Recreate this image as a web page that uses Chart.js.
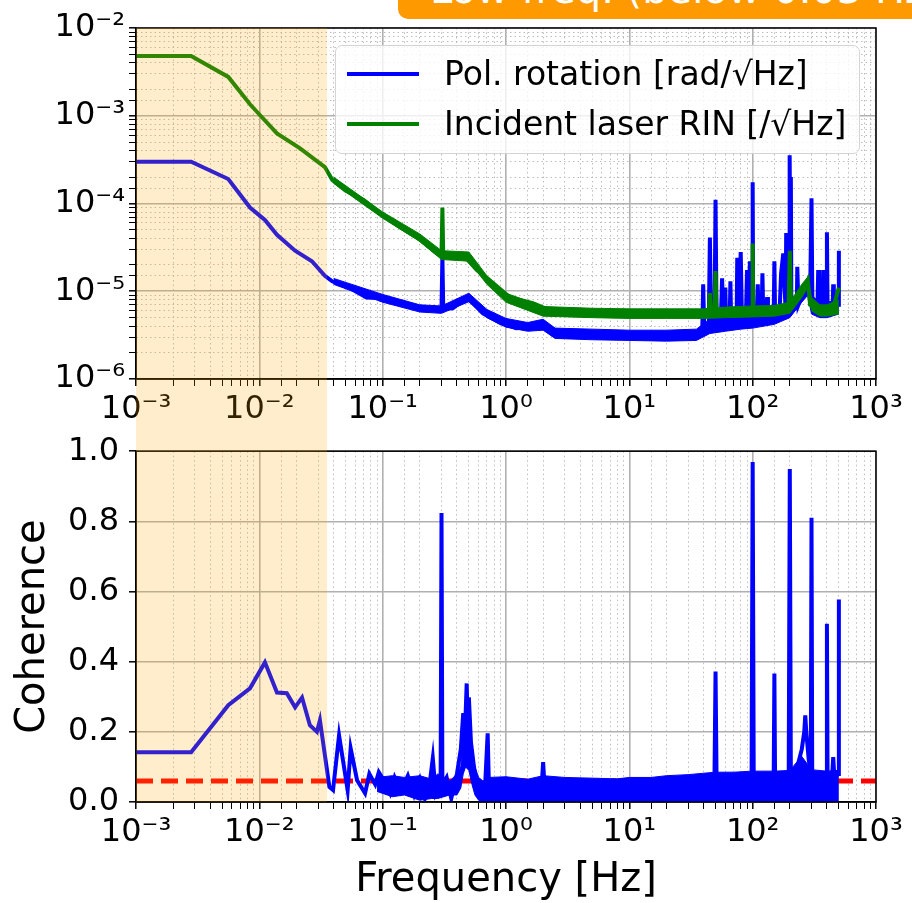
<!DOCTYPE html>
<html>
<head>
<meta charset="utf-8">
<script src="https://cdn.jsdelivr.net/npm/chart.js@4.4.1/dist/chart.umd.min.js"></script>
<style>
  body { margin: 0; background: #fff; font-family: 'DejaVu Sans', sans-serif; }
  #wrap { position: relative; width: 912px; height: 903px; overflow: hidden; }
  #topChart { position: absolute; left: 0; top: 0; }
  #botChart { position: absolute; left: 0; top: 422px; }
  #banner {
    position: absolute; left: 398px; top: -30px; width: 540px; height: 49px;
    background: #ff9900; border-radius: 10px; overflow: hidden;
  }
  #banner span {
    position: absolute; left: 32px; top: -1px; color: #fff; font-size: 40px;
    white-space: nowrap; line-height: 1;
  }
  #legend {
    position: absolute; left: 335px; top: 45px; width: 525px; height: 109px;
    border: 1.5px solid #d4d4d4; border-radius: 7px; background: rgba(255,255,255,0.8);
    box-sizing: border-box;
  }
  .item { position: absolute; left: 0; height: 40px; font-size: 33px; white-space: nowrap; }
  .item i { position: absolute; left: 11px; width: 72px; height: 4px; top: 18px; }
  .item b { position: absolute; left: 108px; top: 0; font-weight: normal; line-height: 40px; }
</style>
</head>
<body>
<div id="wrap">
  <canvas id="topChart" width="912" height="430"></canvas>
  <canvas id="botChart" width="912" height="481"></canvas>
  <div id="banner"><span>Low freq. (below 0.03 Hz)</span></div>
  <div id="legend">
    <div class="item" style="top:8px"><i style="background:#0000ff"></i><b>Pol. rotation [rad/√Hz]</b></div>
    <div class="item" style="top:58px"><i style="background:#008000"></i><b>Incident laser RIN [/√Hz]</b></div>
  </div>
</div>
<script>
// top panel: amplitude spectral densities
const freqPol = [0.001, 0.0028, 0.0056, 0.0084, 0.0111, 0.0139, 0.0195, 0.0267, 0.034, 0.039, 0.0545, 0.074, 0.1, 0.138, 0.19, 0.256,
  0.3, 0.305, 0.31, 0.37, 0.483, 0.65, 0.89, 1.21, 1.65, 1.88, 2.4, 4.2, 7.9, 15, 25, 37,
  39, 39.7, 40.5, 44, 45, 46, 49, 50, 51, 55, 56.5, 58, 59.5, 60, 61, 65, 66, 67,
  74, 75, 77, 80, 82, 88, 90, 92, 95, 97, 99, 100, 101, 108, 110, 112, 118, 120, 122, 129, 131, 133,
  148, 150, 152, 165, 170, 177, 185, 187, 189, 196, 198, 199, 200, 202.5, 204, 206, 228, 230, 235, 260, 280, 292, 300, 305,
  335, 340, 345, 368, 373, 378, 395, 400, 405, 445, 450, 455, 495, 500];
const asdPol = [3.0e-4, 3.0e-4, 1.9e-4, 9.0e-5, 6.5e-5, 4.4e-5, 2.9e-5, 2.2e-5, 1.5e-5, 1.3e-5, 1.08e-5, 8.5e-6, 8.3e-6, 7.3e-6, 6.4e-6, 6.2e-6,
  6.3e-6, 2.5e-5, 6.3e-6, 6.4e-6, 8.5e-6, 5.6e-6, 4.4e-6, 3.8e-6, 3.9e-6, 4.4e-6, 3.2e-6, 3.3e-6, 3.0e-6, 3.1e-6, 3.0e-6, 3.2e-6,
  3.5e-6, 1.2e-5, 3.6e-6, 3.8e-6, 4.1e-5, 3.9e-6, 4.0e-6, 1.1e-4, 4.0e-6, 4.1e-6, 1.4e-5, 4.1e-6, 4.1e-6, 1.1e-5, 4.1e-6, 4.2e-6, 1.3e-5, 4.2e-6,
  4.3e-6, 2.4e-5, 5.0e-6, 2.8e-5, 4.4e-6, 4.5e-6, 1.75e-5, 5.0e-6, 2.2e-5, 4.6e-6, 4.7e-6, 1.75e-4, 4.7e-6, 4.8e-6, 1.2e-5, 4.8e-6, 4.9e-6, 1.6e-5, 5.0e-6, 5.0e-6, 8.6e-6, 5.0e-6,
  5.2e-6, 2.2e-5, 5.3e-6, 5.5e-6, 1.6e-5, 2.7e-5, 6.0e-6, 4.6e-5, 6.0e-6, 6.0e-6, 4.6e-5, 6.0e-6, 3.55e-4, 6.0e-6, 2.0e-4, 6.0e-6, 6.5e-6, 1.9e-5, 7.0e-6, 1.0e-5, 1.3e-5, 8.0e-6, 1.15e-4, 7.0e-6,
  6.5e-6, 1.75e-5, 6.3e-6, 6.4e-6, 1.75e-5, 6.4e-6, 6.5e-6, 4.7e-5, 6.5e-6, 6.5e-6, 1.2e-5, 6.5e-6, 7.0e-6, 2.9e-5];

const bandFreqPol = [0.04, 0.1, 0.2, 0.3, 0.5, 0.7, 1, 1.5, 2, 2.5, 5, 10, 20, 35, 45, 60, 80, 100, 150, 200, 250, 280, 300, 350, 400, 500];
const polHi = [1.4e-5, 9.2e-6, 7.0e-6, 6.8e-6, 9.5e-6, 6.2e-6, 4.9e-6, 4.4e-6, 4.8e-6, 3.8e-6, 3.7e-6, 3.6e-6, 3.6e-6, 3.7e-6, 4.8e-6, 5.2e-6, 5.3e-6, 5.6e-6, 6.0e-6, 7.0e-6, 1.1e-5, 1.4e-5, 9.0e-6, 7.5e-6, 7.5e-6, 8.0e-6];
const polLo = [1.2e-5, 7.5e-6, 5.8e-6, 5.6e-6, 7.6e-6, 5.0e-6, 3.9e-6, 3.5e-6, 3.6e-6, 2.9e-6, 2.8e-6, 2.75e-6, 2.7e-6, 2.75e-6, 3.3e-6, 3.5e-6, 3.7e-6, 3.8e-6, 4.2e-6, 5.0e-6, 7.5e-6, 9.0e-6, 5.5e-6, 5.0e-6, 5.0e-6, 5.5e-6];

const freqRin = [0.001, 0.0028, 0.0056, 0.0084, 0.0101, 0.0139, 0.0214, 0.034, 0.039, 0.05, 0.07, 0.1, 0.138, 0.19, 0.275,
  0.3, 0.305, 0.31, 0.37, 0.45, 0.58, 0.79, 1.08, 1.65, 2.3, 4.2, 8, 20, 44, 45, 46, 49, 50, 51,
  99, 100, 101, 150, 195, 200, 205, 230, 260, 280, 292, 350, 450, 500];
const asdRin = [4.8e-3, 4.8e-3, 2.77e-3, 1.35e-3, 1.02e-3, 6.3e-4, 4.25e-4, 2.6e-4, 1.86e-4, 1.4e-4, 1.1e-4, 7.4e-5, 5.4e-5, 4.1e-5, 2.7e-5,
  2.6e-5, 9.0e-5, 2.5e-5, 2.4e-5, 2.6e-5, 1.74e-5, 1.23e-5, 8.5e-6, 7.3e-6, 6.0e-6, 5.8e-6, 5.6e-6, 5.6e-6, 5.6e-6, 9.5e-6, 5.6e-6, 5.6e-6, 1.7e-5, 5.6e-6,
  5.7e-6, 3.5e-5, 5.7e-6, 5.8e-6, 6.0e-6, 2.9e-5, 6.5e-6, 8.0e-6, 1.1e-5, 1.35e-5, 7.0e-6, 6.0e-6, 6.5e-6, 1.1e-5];

const bandFreqRin = [0.04, 0.1, 0.2, 0.3, 0.5, 0.7, 1, 2, 5, 10, 20, 40, 60, 100, 150, 200, 250, 280, 300, 350, 400, 500];
const rinHi = [2.0e-4, 8.0e-5, 4.5e-5, 2.9e-5, 2.8e-5, 1.5e-5, 9.5e-6, 6.7e-6, 6.4e-6, 6.3e-6, 6.3e-6, 6.3e-6, 6.6e-6, 6.8e-6, 6.9e-6, 7.5e-6, 1.2e-5, 1.45e-5, 8.5e-6, 7.0e-6, 7.0e-6, 8.0e-6];
const rinLo = [1.7e-4, 6.8e-5, 3.7e-5, 2.3e-5, 2.2e-5, 1.2e-5, 7.5e-6, 5.2e-6, 5.0e-6, 4.9e-6, 4.9e-6, 4.9e-6, 5.0e-6, 5.1e-6, 5.2e-6, 5.6e-6, 8.5e-6, 1.1e-5, 6.0e-6, 5.2e-6, 5.2e-6, 5.5e-6];

// bottom panel: coherence
const freqCoh = [0.001, 0.0028, 0.0056, 0.0084, 0.0111, 0.0139, 0.0167, 0.0195, 0.0222, 0.0257, 0.0293, 0.031, 0.037, 0.0396, 0.0443, 0.052, 0.055,
  0.062, 0.072, 0.078, 0.087, 0.093, 0.105, 0.115, 0.125, 0.14, 0.16, 0.18, 0.2, 0.22, 0.24, 0.255, 0.27, 0.295, 0.3, 0.305,
  0.33, 0.36, 0.4, 0.43, 0.45, 0.465, 0.48, 0.49, 0.5, 0.52, 0.55, 0.58, 0.62, 0.68, 0.71, 0.73, 0.8, 1, 1.5, 1.95, 2.0, 2.05,
  5, 10, 20, 40, 49, 50, 51, 98, 100, 102, 148, 150, 152, 196, 200, 204, 230, 250, 262, 267, 272, 285, 296, 300, 304,
  330, 380, 395, 400, 405, 440, 450, 460, 495, 500];
const coh = [0.142, 0.142, 0.276, 0.324, 0.398, 0.312, 0.31, 0.27, 0.298, 0.219, 0.2, 0.233, 0.043, 0.034, 0.19, 0.034, 0.153,
  0.062, 0.025, 0.08, 0.05, 0.085, 0.055, 0.025, 0.07, 0.03, 0.075, 0.02, 0.065, 0.01, 0.05, 0.125, 0.02, 0.04, 0.824, 0.05,
  0.07, 0.01, 0.08, 0.15, 0.253, 0.2, 0.338, 0.22, 0.298, 0.17, 0.1, 0.05, 0.01, 0.06, 0.196, 0.02, 0.05, 0.05, 0.04, 0.05, 0.114, 0.05,
  0.04, 0.05, 0.05, 0.06, 0.06, 0.372, 0.06, 0.06, 0.969, 0.06, 0.06, 0.366, 0.06, 0.07, 0.949, 0.08, 0.1, 0.15, 0.2, 0.247, 0.2, 0.12, 0.08, 0.81, 0.08,
  0.07, 0.08, 0.07, 0.508, 0.07, 0.07, 0.128, 0.07, 0.08, 0.577];

const bandFreqCoh = [0.09, 0.12, 0.15, 0.2, 0.25, 0.28, 0.35, 0.4, 0.43, 0.45, 0.47, 0.5, 0.53, 0.56, 0.6, 0.65, 0.7, 0.72, 1, 1.5, 2, 3, 5, 8, 10, 15, 20, 30, 40, 50, 70, 100, 150, 200, 250, 300, 400, 500];
const cohHi = [0.07, 0.075, 0.07, 0.075, 0.065, 0.08, 0.06, 0.08, 0.1, 0.22, 0.28, 0.25, 0.15, 0.1, 0.07, 0.06, 0.065, 0.07, 0.072, 0.065, 0.075, 0.07, 0.068, 0.066, 0.07, 0.07, 0.075, 0.078, 0.082, 0.085, 0.085, 0.088, 0.088, 0.09, 0.13, 0.092, 0.088, 0.09];
const cohLo = [0.03, 0.015, 0.02, 0.005, 0.01, 0.01, 0.02, 0.02, 0.04, 0.08, 0.1, 0.09, 0.05, 0.02, 0.005, 0, 0, 0, 0, 0, 0, 0, 0, 0, 0, 0, 0, 0, 0, 0, 0, 0, 0, 0, 0, 0, 0, 0];

const thresholdFreq = [0.001, 1000];
const threshold = [0.06, 0.06];

// low-frequency shaded band
const shadeFrom = 0.001;
const shadeTo = 0.0354;

const BLUE = '#0000ff', GREEN = '#008000', RED = '#ff0000';
const GRID = '#b0b0b0';
const FONT = 'DejaVu Sans';

function pts(xs, ys) {
    return xs.map((x, i) => ({ x: x, y: ys[i] }));
}

function isDecade(v) {
    const l = Math.log10(v);
    return Math.abs(l - Math.round(l)) < 1e-6;
}

const SUP = { '-': '\u207b', '0': '\u2070', '1': '\u00b9', '2': '\u00b2', '3': '\u00b3', '4': '\u2074', '5': '\u2075', '6': '\u2076', '7': '\u2077', '8': '\u2078', '9': '\u2079' };
function decadeLabel(v) {
    if (!isDecade(v)) return '';
    const e = String(Math.round(Math.log10(v)));
    return '10' + e.split('').map(c => SUP[c]).join('');
}

function logAxis(min, max, fitSize, horizontal) {
    return {
        type: 'logarithmic',
        min: min,
        max: max,
        afterFit: s => { if (horizontal) s.height = fitSize; else s.width = fitSize; },
        grid: {
            color: c => (c.tick && isDecade(c.tick.value)) ? GRID : '#bdbdbd',
            lineWidth: c => (c.tick && isDecade(c.tick.value)) ? 1.6 : 1,
            tickColor: '#000',
            tickWidth: c => (c.tick && isDecade(c.tick.value)) ? 1.5 : 1,
            tickLength: 7,
            tickBorderDash: []
        },
        border: {
            color: '#000',
            width: 1.5,
            dash: c => (c.tick && !isDecade(c.tick.value)) ? [1.5, 3] : []
        },
        ticks: {
            autoSkip: false,
            maxRotation: 0,
            color: '#000',
            padding: 4,
            font: { family: FONT, size: 32 },
            callback: v => decadeLabel(v)
        }
    };
}

const framePlugin = {
    id: 'frame',
    afterDatasetsDraw(chart) {
        const a = chart.chartArea, ctx = chart.ctx;
        ctx.save();
        ctx.strokeStyle = '#000';
        ctx.lineWidth = 1.5;
        ctx.strokeRect(a.left, a.top, a.right - a.left, a.bottom - a.top);
        ctx.restore();
    }
};

// orange band across both panels, drawn over everything like a figure patch
const shadePlugin = {
    id: 'shade',
    afterDraw(chart, args, opts) {
        const x = chart.scales.x, a = chart.chartArea, ctx = chart.ctx;
        const x0 = x.getPixelForValue(shadeFrom), x1 = x.getPixelForValue(shadeTo);
        const y0 = opts.fromY !== undefined ? opts.fromY : a.top;
        const y1 = opts.toBottom ? chart.height : a.bottom;
        ctx.save();
        ctx.fillStyle = 'rgba(255,165,0,0.2)';
        ctx.fillRect(x0, y0, x1 - x0, y1 - y0);
        ctx.restore();
    }
};

Chart.defaults.font.family = FONT;
Chart.defaults.animation = false;

function band(xs, hi, lo, color, order) {
    return [
        { data: pts(xs, hi), borderColor: color, backgroundColor: color, borderWidth: 1, pointRadius: 0, fill: '+1', order: order },
        { data: pts(xs, lo), borderColor: color, backgroundColor: color, borderWidth: 1, pointRadius: 0, fill: false, order: order }
    ];
}

new Chart(document.getElementById('topChart'), {
    type: 'line',
    data: {
        datasets: [
            { label: 'Pol. rotation [rad/\u221aHz]', data: pts(freqPol, asdPol), borderColor: BLUE, borderWidth: 4, pointRadius: 0, fill: false, order: 3 },
            { label: 'Incident laser RIN [/\u221aHz]', data: pts(freqRin, asdRin), borderColor: GREEN, borderWidth: 4, pointRadius: 0, fill: false, order: 1 },
            ...band(bandFreqPol, polHi, polLo, BLUE, 4),
            ...band(bandFreqRin, rinHi, rinLo, GREEN, 2)
        ]
    },
    options: {
        responsive: false,
        layout: { padding: { top: 28, right: 36, left: 0, bottom: 0 } },
        plugins: { legend: { display: false }, tooltip: { enabled: false }, shade: { toBottom: true } },
        scales: {
            x: logAxis(1e-3, 1e3, 51, true),
            y: logAxis(1e-6, 1e-2, 136, false)
        }
    },
    plugins: [framePlugin, shadePlugin]
});

const cohX = logAxis(1e-3, 1e3, 101, true);
cohX.title = { display: true, text: 'Frequency [Hz]', color: '#000', font: { family: FONT, size: 40 }, padding: { top: 0, bottom: -2 } };

new Chart(document.getElementById('botChart'), {
    type: 'line',
    data: {
        datasets: [
            { label: 'Coherence', data: pts(freqCoh, coh), borderColor: BLUE, borderWidth: 4, pointRadius: 0, fill: false, order: 1 },
            ...band(bandFreqCoh, cohHi, cohLo, BLUE, 2),
            { label: 'Threshold', data: pts(thresholdFreq, threshold), borderColor: RED, borderWidth: 5, borderDash: [17, 8], pointRadius: 0, fill: false, order: 5 }
        ]
    },
    options: {
        responsive: false,
        layout: { padding: { top: 28, right: 36, left: 0, bottom: 0 } },
        plugins: { legend: { display: false }, tooltip: { enabled: false }, shade: { fromY: 8 } },
        scales: {
            x: cohX,
            y: {
                min: 0,
                max: 1,
                afterFit: s => { s.width = 136; },
                grid: { color: GRID, lineWidth: 1.6, tickColor: '#000', tickWidth: 1.5, tickLength: 7 },
                border: { color: '#000', width: 1.5 },
                title: { display: true, text: 'Coherence', color: '#000', font: { family: FONT, size: 40 }, padding: { top: 10, bottom: 0 } },
                ticks: {
                    stepSize: 0.2,
                    color: '#000',
                    padding: 10,
                    font: { family: FONT, size: 32 },
                    callback: v => v.toFixed(1)
                }
            }
        }
    },
    plugins: [framePlugin, shadePlugin]
});
</script>
</body>
</html>
